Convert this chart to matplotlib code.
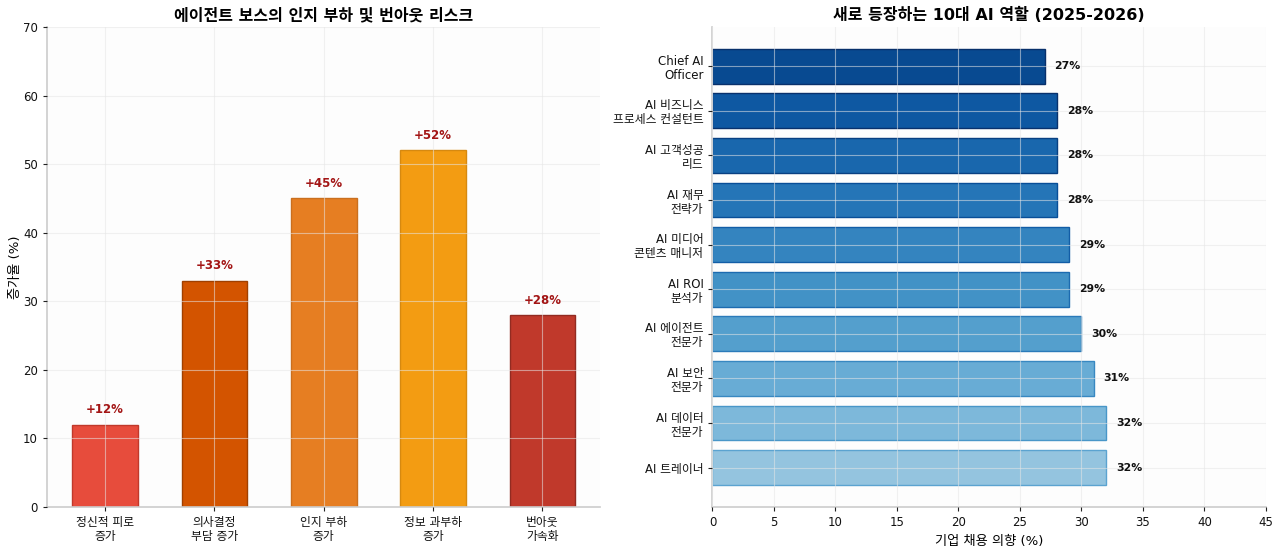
import matplotlib
matplotlib.use("Agg")
import matplotlib.pyplot as plt
import numpy as np

plt.rcParams['font.family'] = ['DejaVu Sans', 'Noto Sans CJK KR']
plt.rcParams['axes.unicode_minus'] = False

# Left chart data
risk_labels = ['정신적 피로\n증가', '의사결정\n부담 증가', '인지 부하\n증가', '정보 과부하\n증가', '번아웃\n가속화']
risk_values = [12, 33, 45, 52, 28]
risk_colors = ['#E74C3C', '#D35400', '#E67E22', '#F39C12', '#C0392B']

# Right chart data (bottom to top)
role_labels = ['AI 트레이너', 'AI 데이터\n전문가', 'AI 보안\n전문가', 'AI 에이전트\n전문가', 'AI ROI\n분석가',
               'AI 미디어\n콘텐츠 매니저', 'AI 재무\n전략가', 'AI 고객성공\n리드', 'AI 비즈니스\n프로세스 컨설턴트',
               'Chief AI\nOfficer']
role_values = [32, 32, 31, 30, 29, 29, 28, 28, 28, 27]

fig, (ax1, ax2) = plt.subplots(1, 2, figsize=(12.8, 5.51), dpi=100)
fig.subplots_adjust(left=0.0367, right=0.989, top=0.951, bottom=0.08, wspace=0.2025)

def style(ax):
    ax.set_facecolor('#fdfdfd')
    for s in ['top', 'right']:
        ax.spines[s].set_visible(False)
    for s in ['left', 'bottom']:
        ax.spines[s].set_color('#cccccc')
        ax.spines[s].set_linewidth(1.2)
    ax.grid(True, color='#e6e6e6', alpha=0.55, linewidth=0.8)
    ax.set_axisbelow(False)
    ax.tick_params(colors='#222222', labelsize=8.5, length=3)
    for t in ax.get_xticklabels() + ax.get_yticklabels():
        t.set_color('#111111')

# Left
x = np.arange(len(risk_labels))
edge = ['#C0392B', '#A04000', '#CA6F1E', '#D68910', '#922B21']
ax1.bar(x, risk_values, width=0.6, color=risk_colors, edgecolor=edge, linewidth=1)
for xi, v in zip(x, risk_values):
    ax1.text(xi, v + 1.2, f'+{v}%', ha='center', va='bottom', fontsize=8.5,
             fontweight='bold', color='#A31515')
ax1.set_xticks(x)
ax1.set_xticklabels(risk_labels, fontsize=8.5, linespacing=1.1)
ax1.set_ylim(0, 70)
ax1.set_ylabel('증가율 (%)', fontsize=9.5, labelpad=1)
ax1.set_title('에이전트 보스의 인지 부하 및 번아웃 리스크', fontsize=11.5, fontweight='bold', pad=5)
style(ax1)

# Right
y = np.arange(len(role_labels))
cmap = plt.cm.Blues
cols = [cmap(0.4 + 0.5 * i / (len(role_labels) - 1)) for i in range(len(role_labels))]
ecols = [cmap(min(1.0, 0.55 + 0.5 * i / (len(role_labels) - 1))) for i in range(len(role_labels))]
ax2.barh(y, role_values, height=0.78, color=cols, edgecolor=ecols, linewidth=1)
for yi, v in zip(y, role_values):
    ax2.text(v + 0.8, yi, f'{v}%', ha='left', va='center', fontsize=7.8, fontweight='bold', color='#111111')
ax2.set_yticks(y)
ax2.set_yticklabels(role_labels, fontsize=8, linespacing=1.1)
ax2.set_xlim(0, 45)
ax2.set_xlabel('기업 채용 의향 (%)', fontsize=9.5)
ax2.set_title('새로 등장하는 10대 AI 역할 (2025-2026)', fontsize=11.5, fontweight='bold', pad=5)
style(ax2)

fig.savefig('out.png', dpi=100)
